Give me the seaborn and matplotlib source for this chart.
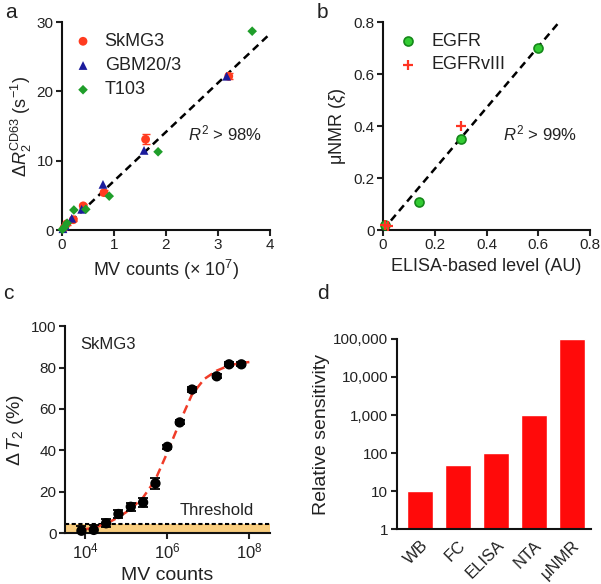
import numpy as np
import pandas as pd
import matplotlib
matplotlib.use('Agg')
import matplotlib.pyplot as plt
import matplotlib.ticker as mticker
import seaborn as sns

# ---- panel a : dR2 vs MV counts (x 10^7)
skmg3_x = [0.04, 0.09, 0.22, 0.41, 0.81, 1.61, 3.21]
skmg3_y = [0.3, 0.9, 1.5, 3.5, 5.4, 13.1, 22.2]
skmg3_err = [0.1, 0.1, 0.2, 0.3, 0.4, 0.7, 0.4]
gbm_x = [0.02, 0.07, 0.19, 0.38, 0.79, 1.58, 3.17]
gbm_y = [0.2, 0.6, 1.7, 3.0, 6.6, 11.5, 22.2]
t103_x = [0.01, 0.05, 0.10, 0.23, 0.46, 0.91, 1.85, 3.66]
t103_y = [0.1, 0.4, 1.0, 2.9, 3.0, 4.9, 11.3, 28.7]
fit_a_x = [0, 4]
fit_a_y = [0, 28.3]

# ---- panel b : uNMR vs ELISA
egfr_x = [0.01, 0.14, 0.30, 0.60]
egfr_y = [0.02, 0.11, 0.35, 0.70]
egfrv3_x = [0.01, 0.02, 0.30]
egfrv3_y = [0.02, 0.015, 0.40]
fit_b_x = [0.0, 0.68]
fit_b_y = [0.0, 0.80]

# ---- panel c : titration
mv_counts = [8e3, 1.6e4, 3.2e4, 6.4e4, 1.28e5, 2.56e5, 5.12e5, 1.0e6, 2.0e6, 4.0e6, 1.6e7, 3.2e7, 6.4e7]
dT2 = [1.1, 1.5, 4.7, 9.2, 12.7, 14.8, 24.0, 41.7, 53.5, 69.4, 75.8, 81.6, 81.6]
dT2_err = [2.5, 2.5, 2.0, 1.9, 2.0, 2.0, 2.7, 1.0, 1.0, 1.0, 1.0, 1.0, 1.0]
curve_logx = [3.9, 4.2, 4.5, 4.8, 5.1, 5.4, 5.7, 6.0, 6.3, 6.6, 6.9, 7.2, 7.5, 7.8, 8.0]
curve_y = [1.5, 2.5, 4.5, 7.5, 11.5, 17, 25.5, 39, 53.5, 67, 74.5, 78.5, 81, 82.3, 82.7]
threshold = 4.2

# ---- panel d : sensitivity
methods = ['WB', 'FC', 'ELISA', 'NTA', 'μNMR']
sensitivity = [10, 50, 100, 1000, 100000]

sns.set_theme(style='ticks')
plt.rcParams['font.family'] = ['Liberation Sans', 'DejaVu Sans']
plt.rcParams['mathtext.fontset'] = 'custom'
plt.rcParams['mathtext.rm'] = 'Liberation Sans'
plt.rcParams['mathtext.it'] = 'Liberation Sans:italic'
plt.rcParams['axes.linewidth'] = 1.5
txt = '#222222'
plt.rcParams['text.color'] = txt
plt.rcParams['axes.labelcolor'] = txt
plt.rcParams['xtick.color'] = txt
plt.rcParams['ytick.color'] = txt
plt.rcParams['axes.edgecolor'] = '#111111'

fig = plt.figure(figsize=(6.01, 5.84), dpi=100)
ax_a = fig.add_axes([0.103, 0.606, 0.346, 0.356])
ax_b = fig.add_axes([0.637, 0.606, 0.345, 0.356])
ax_c = fig.add_axes([0.108, 0.0873, 0.341, 0.354])
ax_d = fig.add_axes([0.660, 0.0937, 0.324, 0.326])

for ax in [ax_a, ax_b, ax_c, ax_d]:
    sns.despine(ax=ax)
    ax.tick_params(direction='out', length=4, width=1.5, labelsize=11, pad=2)

lab_fs = 13

# panel a
sns.lineplot(x=fit_a_x, y=fit_a_y, ax=ax_a, color='black', linestyle=(0, (3, 2)), lw=1.8)
ax_a.errorbar(skmg3_x, skmg3_y, yerr=skmg3_err, fmt='none', ecolor='#ff3b1f', capsize=3, lw=1.2, clip_on=False)
sns.scatterplot(x=skmg3_x, y=skmg3_y, ax=ax_a, color='#ff3b1f', marker='o', s=40, edgecolor='none',
                label='SkMG3', clip_on=False, zorder=5)
sns.scatterplot(x=gbm_x, y=gbm_y, ax=ax_a, color='#1c1c9c', marker='^', s=40, edgecolor='none',
                label='GBM20/3', clip_on=False, zorder=5)
sns.scatterplot(x=t103_x, y=t103_y, ax=ax_a, color='#1f9e2a', marker='D', s=24, edgecolor='none',
                label='T103', clip_on=False, zorder=5)
ax_a.set_xlim(0, 4)
ax_a.set_ylim(0, 30)
ax_a.set_xticks([0, 1, 2, 3, 4])
ax_a.set_yticks([0, 10, 20, 30])
ax_a.set_xlabel('MV counts (× 10$^7$)', fontsize=lab_fs, labelpad=4)
ax_a.set_ylabel(r'$\Delta\mathit{R}_2^{\mathrm{CD63}}$ (s$^{-1}$)', fontsize=lab_fs, labelpad=2)
ax_a.legend(frameon=False, fontsize=13, loc='upper left', bbox_to_anchor=(-0.02, 1.0),
            handletextpad=0.4, labelspacing=0.4, handlelength=1.6, borderaxespad=0.2)
ax_a.text(2.43, 13.9, r'$\mathit{R}^2$ > 98%', fontsize=12, va='center')

# panel b
sns.lineplot(x=fit_b_x, y=fit_b_y, ax=ax_b, color='black', linestyle=(0, (3, 2)), lw=1.8)
sns.scatterplot(x=egfr_x, y=egfr_y, color='#33cc33', edgecolor='#15881a',
                linewidth=1.2, s=42, marker='o', ax=ax_b, label='EGFR', clip_on=False, zorder=5)
sns.scatterplot(x=egfrv3_x, y=egfrv3_y, color='#ff3322',
                linewidth=1.6, s=50, marker='+', ax=ax_b, label='EGFRvIII', clip_on=False, zorder=6)
ax_b.set_xlim(0, 0.8)
ax_b.set_ylim(0, 0.8)
ax_b.set_xticks([0, 0.2, 0.4, 0.6, 0.8])
ax_b.set_yticks([0, 0.2, 0.4, 0.6, 0.8])
ax_b.xaxis.set_major_formatter(mticker.FuncFormatter(lambda v, p: '0' if v == 0 else f'{v:.1f}'))
ax_b.yaxis.set_major_formatter(mticker.FuncFormatter(lambda v, p: '0' if v == 0 else f'{v:.1f}'))
ax_b.set_xlabel('ELISA-based level (AU)', fontsize=lab_fs, labelpad=4)
ax_b.set_ylabel(r'μNMR ($\xi$)', fontsize=lab_fs, labelpad=4)
ax_b.legend(frameon=False, fontsize=13, loc='upper left', bbox_to_anchor=(0.0, 1.0),
            handletextpad=0.5, labelspacing=0.35, handlelength=1.6, borderaxespad=0.2)
ax_b.text(0.465, 0.37, r'$\mathit{R}^2$ > 99%', fontsize=12, va='center')

# panel c
ax_c.set_xscale('log')
ax_c.axhspan(0, threshold, color='#f9cd7e', lw=0, zorder=0)
ax_c.axhline(threshold, color='black', linestyle=(0, (2, 1.2)), lw=1.5, zorder=1)
sns.lineplot(x=[10 ** v for v in curve_logx], y=curve_y, ax=ax_c, color='#f03c28',
             linestyle=(0, (3.5, 2)), lw=1.8, zorder=2)
ax_c.errorbar(mv_counts, dT2, yerr=dT2_err, fmt='none', ecolor='black', capsize=3.5, lw=1.3, capthick=1.3, zorder=3)
sns.scatterplot(x=mv_counts, y=dT2, ax=ax_c, color='black', s=55, edgecolor='none', zorder=4, clip_on=False)
ax_c.set_xlim(10 ** 3.5, 10 ** 8.5)
ax_c.set_ylim(0, 100)
ax_c.set_xticks([1e4, 1e6, 1e8])
ax_c.xaxis.set_minor_locator(mticker.NullLocator())
ax_c.set_yticks([0, 20, 40, 60, 80, 100])
ax_c.tick_params(axis='x', labelsize=12)
ax_c.set_xlabel('MV counts', fontsize=lab_fs + 1, labelpad=4)
ax_c.set_ylabel(r'$\Delta\,\mathit{T}_2$ (%)', fontsize=lab_fs + 1, labelpad=4)
ax_c.text(10 ** 3.88, 91, 'SkMG3', fontsize=12, va='center')
ax_c.text(10 ** 7.2, 11, 'Threshold', fontsize=12, va='center', ha='center')

# panel d
ax_d.set_yscale('log')
sns.barplot(x=methods, y=sensitivity, ax=ax_d, color='#ff0a0a', saturation=1, width=0.68)
ax_d.set_ylim(1, 100000)
ax_d.set_xlim(-0.62, 4.51)
ax_d.set_yticks([1, 10, 100, 1000, 10000, 100000])
ax_d.yaxis.set_minor_locator(mticker.NullLocator())
ax_d.yaxis.set_major_formatter(mticker.FuncFormatter(lambda v, p: f'{int(round(v)):,}'))
ax_d.tick_params(axis='x', length=0, pad=6)
plt.setp(ax_d.get_xticklabels(), rotation=45, ha='right', rotation_mode='anchor', fontsize=12)
ax_d.set_ylabel('Relative sensitivity', fontsize=lab_fs + 1, labelpad=2)

# panel letters
for s, (x, y) in zip('abcd', [(0.008, 0.978), (0.527, 0.978), (0.005, 0.497), (0.527, 0.497)]):
    fig.text(x, y, s, fontsize=15, va='center', ha='left')

fig.savefig('out.png', dpi=100)
